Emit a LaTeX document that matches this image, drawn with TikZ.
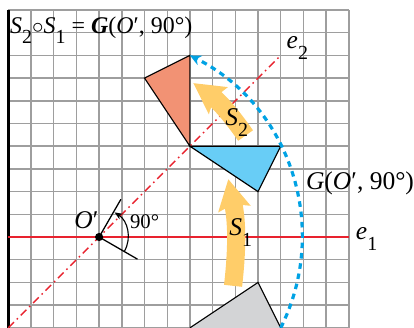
\documentclass[tikz,border=0pt]{standalone}
\usepackage{fontspec}
\setmainfont{Liberation Serif}
\usetikzlibrary{arrows.meta}
\definecolor{gridgray}{RGB}{158,158,158}
\definecolor{axisred}{RGB}{232,34,46}
\definecolor{imgblue}{RGB}{104,205,246}
\definecolor{imgsalmon}{RGB}{242,146,116}
\definecolor{origgray}{RGB}{211,212,214}
\definecolor{moveorange}{RGB}{255,205,105}
\definecolor{arcblue}{RGB}{0,162,228}
\newcommand{\lowidx}[1]{\raisebox{-0.42em}{\fontsize{12.5}{13}\selectfont #1}}
\newcommand{\labfont}{\fontsize{16}{19}\selectfont}
\begin{document}
\begin{tikzpicture}[x=0.5cm, y=0.5cm, font=\labfont,
    movearrow/.style={draw=moveorange, line width=0.4cm,
      -{Stealth[length=0.66cm, width=0.7cm, inset=0.1cm]}},
    lab/.style={anchor=base west, inner sep=0pt}]
	\useasboundingbox (-0.366,-3.98) rectangle (17.87,10.44);
	\draw[gridgray, line width=0.9pt, step=0.5cm] (0,-4) grid (15,10);
	\draw[line width=1.8pt] (0,-4) -- (0,10);
	% axes of the two reflections
	\draw[axisred, line width=0.8pt] (0,0) -- (15,0);
	\draw[axisred, line width=0.9pt, dash pattern=on 5pt off 2.5pt on 1pt off 2.5pt] (0,-4) -- (12,8);
	% triangle, its image under S1, then under S2
	\draw[fill=origgray, line width=0.7pt] (8,-4) -- (11,-2) -- (12,-4);
	\draw[fill=imgblue, line width=0.7pt] (8,4) -- (12,4) -- (11,2) -- cycle;
	\draw[fill=imgsalmon, line width=0.7pt] (8,4) -- (8,8) -- (6,7) -- cycle;
	\draw[movearrow] (9.9,-2.15) to[bend right=9] (9.69,2.55);
	\draw[movearrow] (10.45,4.47) to[bend right=10] (8.15,6.78);
	% the rotation
	\coordinate (O) at (4,0);
	\draw[arcblue, line width=2pt, dash pattern=on 3.5pt off 3pt, -{Stealth[length=7pt, width=6.5pt]}]
		(12,-4) arc[start angle=-26.565, end angle=63.435, radius=8.944];
	\draw[line width=0.8pt] (O) -- +(60:1.92);
	\draw[line width=0.8pt] (O) -- +(-30:1.95);
	\draw[line width=0.7pt, -{Stealth[length=5pt, width=4pt]}] ([shift={(-30:1.28)}]O) arc[start angle=-30, end angle=58, radius=1.28];
	\fill (O) circle (0.18);
	\node[lab] (olab) at (2.9,0.38) {\textit{O}′};
	\node[lab, font=\fontsize{13}{15}\selectfont] (anglab) at (5.35,0.38) {90°};
	\node[lab, font=\fontsize{15}{18}\selectfont] (formula) at (0.07,8.97) {\textit{S}\lowidx{2}$\circ$\textit{S}\lowidx{1} = \textbf{\textit{G}}(\textit{O}′, 90°)};
	\node[lab] (rotlab) at (13.1,2.1) {\textit{G}(\textit{O}′, 90°)};
	\node[lab] (s1lab) at (9.72,0.05) {\textit{S}\lowidx{1}};
	\node[lab] (s2lab) at (9.55,4.9) {\textit{S}\lowidx{2}};
	\node[lab] (e1lab) at (15.3,-0.1) {\textit{e}\lowidx{1}};
	\node[lab] (e2lab) at (12.25,8.3) {\textit{e}\lowidx{2}};
\end{tikzpicture}
\end{document}
